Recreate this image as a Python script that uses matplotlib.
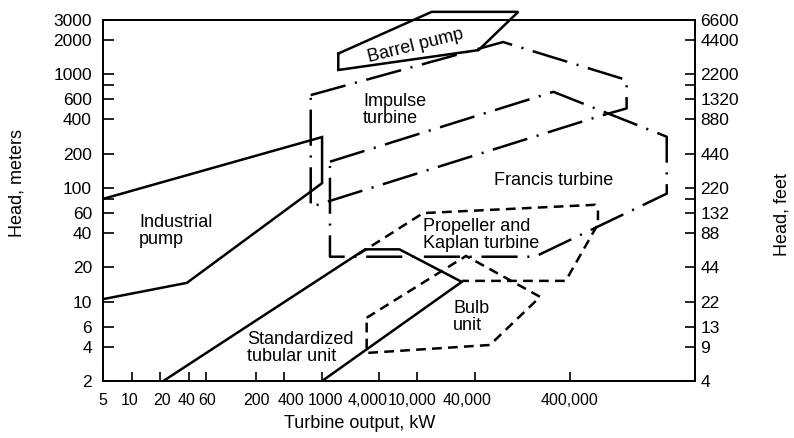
import matplotlib
matplotlib.use("Agg")
import matplotlib.pyplot as plt
from matplotlib.ticker import NullLocator
from matplotlib.transforms import ScaledTranslation

plt.rcParams['font.family'] = ['Liberation Sans', 'DejaVu Sans']
plt.rcParams['lines.scale_dashes'] = False

# outlines of the operating ranges (x = output kW, y = head m)
pump_x = [5, 1000, 1000, 38, 5]
pump_y = [80, 280, 110, 14.6, 10.5]

barrel_x = [1480, 14200, 115000, 44000, 1480, 1480]
barrel_y = [1520, 3540, 3540, 1630, 1090, 1520]

impulse_x = [760, 79600, 1.58e6, 1.58e6, 890000, 760, 760]
impulse_y = [655, 1920, 890, 500, 437, 68, 655]

francis_x = [1210, 269000, 4.17e6, 4.17e6, 172000, 1210, 1210]
francis_y = [170, 700, 282, 89, 24.8, 24.8, 170]

propeller_x = [2400, 11500, 740000, 790000, 790000, 362000, 29500]
propeller_y = [26, 60, 71, 64, 48, 15.2, 15.2]

bulb_x = [2940, 32500, 195000, 58000, 2940, 2940]
bulb_y = [7.2, 25.2, 11, 4.15, 3.53, 7.2]

tubular_x = [21.5, 2830, 6500, 29300, 1000]
tubular_y = [2, 28.8, 28.8, 14.9, 2]

# axis ticks
x_ticks = [5, 10, 20, 40, 60, 200, 400, 1000, 4000, 10000, 40000, 400000]
x_labels = ['5', '10', '20', '40', '60', '200', '400', '1000', '4,000',
            '10,000', '40,000', '400,000']
y_ticks = [2, 4, 6, 10, 20, 40, 60, 80, 100, 200, 400, 600, 800, 1000, 2000, 3000]
y_labels_m = ['2', '4', '6', '10', '20', '40', '60', '', '100', '200', '400',
              '600', '', '1000', '2000', '3000']
y_labels_ft = ['4', '9', '13', '22', '44', '88', '132', '', '220', '440', '880',
               '1320', '', '2200', '4400', '6600']

# small sideways nudges (px) of the x tick labels, as set in the original
x_label_shift = [0, -2, 2, -2, 1, 1, 7, 3, -12, -5, -8, 0]

fig = plt.figure(figsize=(7.94, 4.38), dpi=100)
ax = fig.add_axes([0.12972, 0.13014, 0.74559, 0.82420])
ax.set_xscale('log')
ax.set_yscale('log')
ax.set_xlim(5, 8.26e6)
ax.set_ylim(2, 3000)

solid = dict(color='black', lw=1.8, solid_joinstyle='miter')
dashdot = dict(color='black', lw=1.8, linestyle=(0, (26, 7, 1.5, 7)))
dashed = dict(color='black', lw=1.8, linestyle=(0, (7, 4.5)))

ax.plot(pump_x, pump_y, **solid)
ax.plot(barrel_x, barrel_y, clip_on=False, **solid)
ax.plot(tubular_x, tubular_y, **solid)
ax.plot(impulse_x, impulse_y, **dashdot)
ax.plot(francis_x, francis_y, **dashdot)
ax.plot(propeller_x, propeller_y, **dashed)
ax.plot(bulb_x, bulb_y, **dashed)

fs = 13
ax.text(9700, 1767, 'Barrel pump', rotation=14, ha='center', va='center', fontsize=fs)
ax.text(2690, 484, 'Impulse\nturbine', ha='left', va='center', fontsize=fs, linespacing=1.05)
ax.text(273000, 117, 'Francis turbine', ha='center', va='center', fontsize=fs)
ax.text(12, 41.9, 'Industrial\npump', ha='left', va='center', fontsize=fs, linespacing=1.05)
ax.text(11570, 38.7, 'Propeller and\nKaplan turbine', ha='left', va='center', fontsize=fs,
        linespacing=1.0)
ax.text(23900, 7.36, 'Bulb\nunit', ha='left', va='center', fontsize=fs, linespacing=1.0)
ax.text(162, 3.94, 'Standardized\ntubular unit', ha='left', va='center', fontsize=fs,
        linespacing=1.0)

ax.set_xticks(x_ticks)
ax.set_xticklabels(x_labels)
ax.xaxis.set_minor_locator(NullLocator())
ax.set_yticks(y_ticks)
ax.set_yticklabels(y_labels_m)
ax.yaxis.set_minor_locator(NullLocator())
ax.tick_params(axis='x', direction='in', length=6.5, width=1.2, pad=9, labelsize=11.5)
ax.tick_params(axis='y', direction='in', length=8, width=1.2, pad=8, labelsize=12.5)

for lab, dx in zip(ax.get_xticklabels(), x_label_shift):
    lab.set_transform(lab.get_transform() + ScaledTranslation(dx / 100, 0, fig.dpi_scale_trans))

ax2 = ax.twinx()
ax2.set_yscale('log')
ax2.set_ylim(2, 3000)
ax2.set_yticks(y_ticks)
ax2.set_yticklabels(y_labels_ft)
ax2.yaxis.set_minor_locator(NullLocator())
ax2.tick_params(axis='y', direction='in', length=7.5, width=1.2, pad=4, labelsize=12.5)

for a in (ax, ax2):
    for s in a.spines.values():
        s.set_linewidth(1.3)

fig.text(360 / 794, 1 - 423 / 438, 'Turbine output, kW', ha='center', va='center', fontsize=fs)
fig.text(17 / 794, 1 - 183 / 438, 'Head, meters', ha='center', va='center',
         rotation=90, fontsize=fs)
fig.text(782 / 794, 1 - 214 / 438, 'Head, feet', ha='center', va='center',
         rotation=90, fontsize=fs)

fig.savefig('out.png', dpi=100)
